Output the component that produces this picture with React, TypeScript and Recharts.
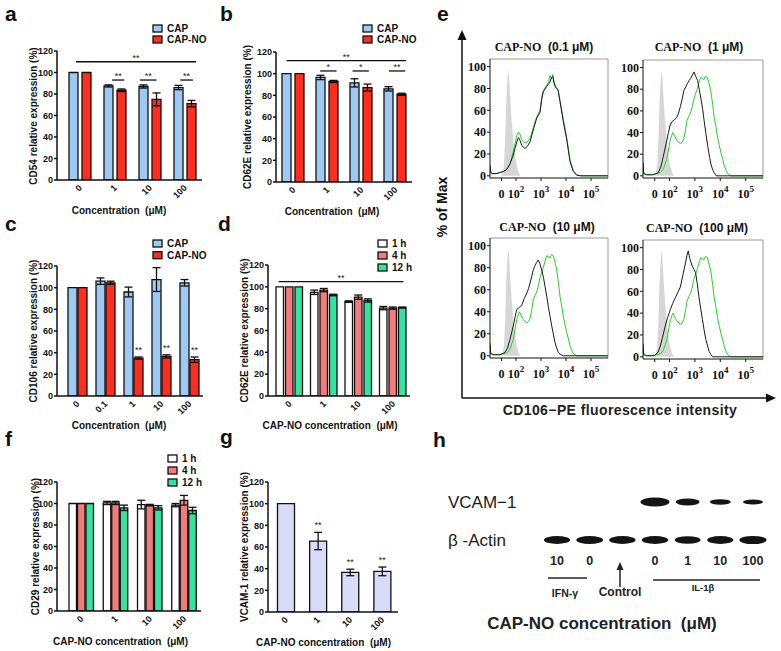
import React from 'react';
import {
  BarChart,
  Bar,
  XAxis,
  YAxis,
  ErrorBar,
  ReferenceLine,
  LabelList,
  ComposedChart,
  Line,
  Area,
  ScatterChart,
  Scatter,
} from 'recharts';

const SANS = '"Liberation Sans", Arial, Helvetica, sans-serif';
const SERIF = '"Liberation Serif", "Times New Roman", Times, serif';
const INK = '#111';

const CAP_BLUE = '#9dcaf2';
const CAP_RED = '#ff2d1e';
const H1 = '#ffffff';
const H4 = '#f47b7b';
const H12 = '#34e3a0';
const LAVENDER = '#d9dbf8';

// a: CD54
const concA = ['0', '1', '10', '100'];
const cd54Cap = [100, 87.5, 87, 86];
const cd54CapErr = [0, 1, 1.5, 2];
const cd54CapNo = [100, 83.5, 75, 71];
const cd54CapNoErr = [0, 1.2, 6, 3];

// b: CD62E
const cd62eCap = [100, 96.5, 91.5, 86];
const cd62eCapErr = [0, 2, 3.8, 2];
const cd62eCapNo = [100, 92.8, 87.2, 81];
const cd62eCapNoErr = [0, 1, 3.2, 1];

// c: CD106
const concC = ['0', '0.1', '1', '10', '100'];
const cd106Cap = [100, 106, 96, 107.5, 104.5];
const cd106CapErr = [0, 3, 4.5, 11, 3];
const cd106CapNo = [100, 104.5, 35, 36.5, 33.5];
const cd106CapNoErr = [0, 1.5, 1, 1.5, 2.5];
const cd106Sig = ['', '', '**', '**', '**'];

// d: CD62E over time
const cd62e1h = [100, 95, 86.5, 80.5];
const cd62e1hErr = [0, 2, 0.7, 1.5];
const cd62e4h = [100, 97, 90.5, 80.5];
const cd62e4hErr = [0, 1.5, 2, 1];
const cd62e12h = [100, 92.5, 87.5, 81];
const cd62e12hErr = [0, 0.7, 1.5, 0.5];

// f: CD29 over time
const cd29_1h = [100, 100.5, 99, 98.5];
const cd29_1hErr = [0, 1.5, 4, 1.5];
const cd29_4h = [100, 100.5, 98.5, 103];
const cd29_4hErr = [0, 1.5, 0.7, 4.5];
const cd29_12h = [100, 96, 96, 93.5];
const cd29_12hErr = [0, 2.5, 2, 3];

// g: VCAM-1
const vcam = [100, 65.5, 36.5, 37.5];
const vcamErr = [0, 8, 3, 4];
const vcamSig = ['', '**', '**', '**'];

// significance brackets (from/to in category units, 0 = first category centre; y in %)
const bracketsA = [
  { from: -0.1, to: 3.33, y: 110, mark: '**' },
  { from: 0.93, to: 1.28, y: 93, mark: '**' },
  { from: 1.73, to: 2.2, y: 93, mark: '**' },
  { from: 2.88, to: 3.24, y: 93, mark: '**' },
];
const bracketsB = [
  { from: -0.19, to: 3.32, y: 112, mark: '**' },
  { from: 0.8, to: 1.28, y: 102.5, mark: '*' },
  { from: 1.75, to: 2.23, y: 102.5, mark: '*' },
  { from: 2.82, to: 3.3, y: 102.5, mark: '**' },
];
const bracketsD = [{ from: -0.31, to: 3.31, y: 104.7, mark: '**' }];

// e: flow cytometry histograms (x in decades, y in % of max)
const decTicks = [1.42, 2, 3, 4, 5];
const decExp = ['', '2', '3', '4', '5'];
const isoCtrl = [
  { x: 1.4, y: 0 }, { x: 1.46, y: 2 }, { x: 1.52, y: 10 }, { x: 1.57, y: 35 },
  { x: 1.61, y: 68 }, { x: 1.66, y: 90 }, { x: 1.69, y: 97 }, { x: 1.72, y: 92 },
  { x: 1.76, y: 75 }, { x: 1.82, y: 52 }, { x: 1.89, y: 33 }, { x: 1.96, y: 18 },
  { x: 2.03, y: 9 }, { x: 2.1, y: 3 }, { x: 2.18, y: 0 },
];
const blackTL = [
  { x: 0.96, y: 10 }, { x: 0.99, y: 3 }, { x: 1.05, y: 2 }, { x: 1.2, y: 2 },
  { x: 1.36, y: 3 }, { x: 1.5, y: 4 }, { x: 1.63, y: 6 }, { x: 1.76, y: 11 },
  { x: 1.89, y: 19 }, { x: 1.97, y: 26 }, { x: 2.03, y: 31 }, { x: 2.1, y: 35 },
  { x: 2.15, y: 33 }, { x: 2.23, y: 28 }, { x: 2.3, y: 26 }, { x: 2.36, y: 25 },
  { x: 2.45, y: 27 }, { x: 2.56, y: 31 }, { x: 2.69, y: 42 }, { x: 2.83, y: 53 },
  { x: 2.96, y: 58 }, { x: 3.03, y: 70 }, { x: 3.09, y: 77 }, { x: 3.23, y: 82 },
  { x: 3.3, y: 84 }, { x: 3.36, y: 86 }, { x: 3.42, y: 90 }, { x: 3.47, y: 91 },
  { x: 3.52, y: 85 }, { x: 3.56, y: 82 }, { x: 3.62, y: 80 }, { x: 3.68, y: 79 },
  { x: 3.76, y: 68 }, { x: 3.89, y: 50 }, { x: 4.03, y: 33 }, { x: 4.16, y: 13 },
  { x: 4.29, y: 4 }, { x: 4.43, y: 0.5 }, { x: 4.6, y: 0 }, { x: 5.68, y: 0 },
];
const greenTL = [
  { x: 0.96, y: 9 }, { x: 0.99, y: 3 }, { x: 1.05, y: 2 }, { x: 1.2, y: 2 },
  { x: 1.36, y: 3 }, { x: 1.5, y: 4 }, { x: 1.63, y: 6 }, { x: 1.76, y: 11 },
  { x: 1.89, y: 22 }, { x: 1.97, y: 30 }, { x: 2.03, y: 37 }, { x: 2.1, y: 40 },
  { x: 2.16, y: 38 }, { x: 2.23, y: 33 }, { x: 2.3, y: 31 }, { x: 2.36, y: 30 },
  { x: 2.45, y: 31 }, { x: 2.56, y: 34 }, { x: 2.69, y: 44 }, { x: 2.83, y: 54 },
  { x: 2.96, y: 60 }, { x: 3.03, y: 72 }, { x: 3.09, y: 78 }, { x: 3.23, y: 83 },
  { x: 3.3, y: 86 }, { x: 3.36, y: 92 }, { x: 3.42, y: 89 }, { x: 3.47, y: 93 },
  { x: 3.52, y: 86 }, { x: 3.56, y: 84 }, { x: 3.62, y: 80 }, { x: 3.68, y: 79 },
  { x: 3.76, y: 69 }, { x: 3.89, y: 52 }, { x: 4.03, y: 35 }, { x: 4.16, y: 15 },
  { x: 4.29, y: 5 }, { x: 4.43, y: 1 }, { x: 4.6, y: 0 }, { x: 5.68, y: 0 },
];
const greenRef = [
  { x: 0.96, y: 12 }, { x: 0.99, y: 2 }, { x: 1.1, y: 1 }, { x: 1.3, y: 1 },
  { x: 1.5, y: 2 }, { x: 1.65, y: 3 }, { x: 1.76, y: 6 }, { x: 1.89, y: 15 },
  { x: 2.03, y: 33 }, { x: 2.13, y: 40 }, { x: 2.2, y: 37 }, { x: 2.29, y: 33 },
  { x: 2.36, y: 31 }, { x: 2.43, y: 30 }, { x: 2.5, y: 31 }, { x: 2.56, y: 34 },
  { x: 2.63, y: 42 }, { x: 2.69, y: 51 }, { x: 2.76, y: 55 }, { x: 2.83, y: 58 },
  { x: 2.9, y: 64 }, { x: 2.96, y: 71 }, { x: 3.03, y: 76 }, { x: 3.09, y: 80 },
  { x: 3.16, y: 86 }, { x: 3.23, y: 91 }, { x: 3.29, y: 90 }, { x: 3.36, y: 89 },
  { x: 3.42, y: 92 }, { x: 3.49, y: 91 }, { x: 3.56, y: 85 }, { x: 3.63, y: 78 },
  { x: 3.7, y: 66 }, { x: 3.76, y: 54 }, { x: 3.83, y: 45 }, { x: 3.89, y: 36 },
  { x: 3.96, y: 28 }, { x: 4.03, y: 21 }, { x: 4.1, y: 15 }, { x: 4.16, y: 9 },
  { x: 4.23, y: 5 }, { x: 4.29, y: 2 }, { x: 4.36, y: 1 }, { x: 4.43, y: 0 },
  { x: 5.68, y: 0 },
];
const blackTR = [
  { x: 0.96, y: 12 }, { x: 0.99, y: 2 }, { x: 1.1, y: 1 }, { x: 1.36, y: 1 },
  { x: 1.56, y: 3 }, { x: 1.66, y: 8 }, { x: 1.76, y: 18 }, { x: 1.89, y: 32 },
  { x: 1.96, y: 40 }, { x: 2.03, y: 47 }, { x: 2.1, y: 50 }, { x: 2.2, y: 52 },
  { x: 2.29, y: 54 }, { x: 2.36, y: 58 }, { x: 2.43, y: 64 }, { x: 2.5, y: 71 },
  { x: 2.57, y: 79 }, { x: 2.64, y: 82 }, { x: 2.7, y: 85 }, { x: 2.77, y: 88 },
  { x: 2.84, y: 90 }, { x: 2.9, y: 93 }, { x: 2.97, y: 96 }, { x: 3.03, y: 92 },
  { x: 3.11, y: 88 }, { x: 3.17, y: 80 }, { x: 3.24, y: 71 }, { x: 3.31, y: 61 },
  { x: 3.37, y: 50 }, { x: 3.44, y: 38 }, { x: 3.51, y: 27 }, { x: 3.58, y: 17 },
  { x: 3.64, y: 10 }, { x: 3.71, y: 5 }, { x: 3.78, y: 2 }, { x: 3.84, y: 0 },
  { x: 5.68, y: 0 },
];
const blackBL = [
  { x: 0.96, y: 10 }, { x: 0.99, y: 2 }, { x: 1.1, y: 1 }, { x: 1.36, y: 1 },
  { x: 1.56, y: 3 }, { x: 1.66, y: 7 }, { x: 1.76, y: 15 }, { x: 1.89, y: 27 },
  { x: 1.96, y: 35 }, { x: 2.03, y: 42 }, { x: 2.13, y: 44 }, { x: 2.23, y: 46 },
  { x: 2.33, y: 52 }, { x: 2.43, y: 57 }, { x: 2.5, y: 61 }, { x: 2.56, y: 66 },
  { x: 2.63, y: 72 }, { x: 2.69, y: 78 }, { x: 2.76, y: 82 }, { x: 2.83, y: 85 },
  { x: 2.89, y: 87 }, { x: 2.95, y: 84 }, { x: 3.03, y: 78 }, { x: 3.1, y: 71 },
  { x: 3.16, y: 63 }, { x: 3.23, y: 54 }, { x: 3.29, y: 45 }, { x: 3.36, y: 36 },
  { x: 3.43, y: 27 }, { x: 3.5, y: 19 }, { x: 3.56, y: 12 }, { x: 3.63, y: 7 },
  { x: 3.69, y: 3 }, { x: 3.8, y: 1 }, { x: 3.89, y: 0 }, { x: 5.68, y: 0 },
];
const blackBR = [
  { x: 0.96, y: 12 }, { x: 0.99, y: 2 }, { x: 1.1, y: 1 }, { x: 1.4, y: 1 },
  { x: 1.55, y: 4 }, { x: 1.63, y: 9 }, { x: 1.73, y: 18 }, { x: 1.83, y: 28 },
  { x: 1.93, y: 36 }, { x: 2.03, y: 43 }, { x: 2.13, y: 49 }, { x: 2.23, y: 54 },
  { x: 2.33, y: 59 }, { x: 2.43, y: 64 }, { x: 2.53, y: 75 }, { x: 2.63, y: 86 },
  { x: 2.69, y: 93 }, { x: 2.74, y: 97 }, { x: 2.8, y: 90 }, { x: 2.9, y: 83 },
  { x: 2.97, y: 80 }, { x: 3.03, y: 77 }, { x: 3.1, y: 66 }, { x: 3.16, y: 55 },
  { x: 3.23, y: 44 }, { x: 3.3, y: 34 }, { x: 3.36, y: 25 }, { x: 3.43, y: 16 },
  { x: 3.5, y: 10 }, { x: 3.56, y: 5 }, { x: 3.63, y: 2 }, { x: 3.7, y: 0 },
  { x: 5.68, y: 0 },
];

// h: western blot (relative band intensity per lane)
const laneTicks = [0, 1, 2, 3, 4, 5, 6];
const laneLabels = ['10', '0', '', '0', '1', '10', '100'];
const vcamBand = [0, 0, 0, 1, 0.72, 0.55, 0.5];
const actinBand = [0.85, 0.88, 0.86, 0.86, 0.82, 0.85, 0.9];
const rowLabels = ['VCAM\u22121', '\u03b2 -Actin'];

const capSeries = (v: number[], e: number[], v2: number[], e2: number[]) => [
  { key: 'cap', name: 'CAP', fill: CAP_BLUE, values: v, errs: e },
  { key: 'capno', name: 'CAP-NO', fill: CAP_RED, values: v2, errs: e2 },
];
const timeSeries = (a: number[], ae: number[], b: number[], be: number[], c: number[], ce: number[]) => [
  { key: 'h1', name: '1 h', fill: H1, values: a, errs: ae },
  { key: 'h4', name: '4 h', fill: H4, values: b, errs: be },
  { key: 'h12', name: '12 h', fill: H12, values: c, errs: ce },
];

const seriesA = capSeries(cd54Cap, cd54CapErr, cd54CapNo, cd54CapNoErr);
const seriesB = capSeries(cd62eCap, cd62eCapErr, cd62eCapNo, cd62eCapNoErr);
const seriesC = capSeries(cd106Cap, cd106CapErr, cd106CapNo, cd106CapNoErr);
const seriesD = timeSeries(cd62e1h, cd62e1hErr, cd62e4h, cd62e4hErr, cd62e12h, cd62e12hErr);
const seriesF = timeSeries(cd29_1h, cd29_1hErr, cd29_4h, cd29_4hErr, cd29_12h, cd29_12hErr);
const seriesG = [{ key: 'vcam', name: 'VCAM-1', fill: LAVENDER, values: vcam, errs: vcamErr }];

const RotTick = (p: any) => {
  const ax = p.x - 1.5
  return (
    <text
      x={ax}
      y={p.y}
      transform={`rotate(-45 ${ax} ${p.y})`}
      textAnchor="end"
      dy="0.7em"
      fontSize={9}
      fontWeight="bold"
      fontFamily={SANS}
      fill={INK}
    >
      {p.payload.value}
    </text>
  )
}

function BarPanel({ plot, pad, cats, series, barSize, barGap, brackets = [], sig }: any) {
  const left = plot.l - 57
  const top = plot.t - 15
  const width = plot.r - left + 8
  const height = plot.b - top + 40
  const pxPerUnit = (plot.b - plot.t) / 120
  const n = cats.length
  // the hidden numeric axis spans [0, n-1] over the whole plot width;
  // convert category-centre units onto it
  const toAxis = (u: number) => ((u + 0.5) * (n - 1)) / n
  const rows = cats.map((c: string, i: number) => {
    const o: any = { cat: c }
    series.forEach((s: any) => {
      o[s.key] = s.values[i]
      o[s.key + 'Err'] = s.errs[i]
    })
    if (sig) o.sig = sig.marks[i]
    return o
  })
  return (
    <div style={{ position: 'absolute', left, top }}>
      <BarChart
        width={width}
        height={height}
        data={rows}
        barGap={barGap}
        margin={{ top: 15, right: 8, left: 0, bottom: 6 }}
      >
        <XAxis
          xAxisId="c"
          dataKey="cat"
          interval={0}
          padding={{ left: pad, right: 0 }}
          height={34}
          tickLine={false}
          tickSize={0}
          tickMargin={4}
          axisLine={{ stroke: INK, strokeWidth: 1.5 }}
          tick={<RotTick />}
        />
        <XAxis
          xAxisId="n"
          type="number"
          domain={[0, n - 1]}
          allowDataOverflow
          hide
          padding={{ left: pad, right: 0 }}
        />
        <YAxis
          width={57}
          domain={[0, 120]}
          ticks={[0, 20, 40, 60, 80, 100, 120]}
          allowDataOverflow
          tickSize={3}
          tickMargin={1}
          axisLine={{ stroke: INK, strokeWidth: 1.5 }}
          tickLine={{ stroke: INK, strokeWidth: 1.5 }}
          tick={{ fontSize: 9, fontWeight: 'bold', fill: INK, fontFamily: SANS }}
        />
        {series.map((s: any) => (
          <Bar
            key={s.key}
            xAxisId="c"
            dataKey={s.key}
            name={s.name}
            fill={s.fill}
            stroke={INK}
            strokeWidth={1.3}
            barSize={barSize}
            isAnimationActive={false}
          >
            <ErrorBar dataKey={s.key + 'Err'} width={4} stroke={INK} strokeWidth={1.3} direction="y" />
            {sig && sig.key === s.key && (
              <LabelList
                dataKey="sig"
                content={(p: any) => {
                  if (!p.value) return null
                  const e = s.errs[p.index] || 0
                  return (
                    <text
                      x={Number(p.x) + Number(p.width) / 2}
                      y={Number(p.y) - e * pxPerUnit - 4}
                      textAnchor="middle"
                      fontSize={9}
                      fill="#222"
                      fontFamily={SANS}
                    >
                      {p.value}
                    </text>
                  )
                }}
              />
            )}
          </Bar>
        ))}
        {brackets.map((b: any, i: number) => (
          <ReferenceLine
            key={i}
            xAxisId="n"
            segment={[{ x: toAxis(b.from), y: b.y }, { x: toAxis(b.to), y: b.y }]}
            stroke={INK}
            strokeWidth={1.3}
            ifOverflow="visible"
            label={{ value: b.mark, position: 'top', offset: 1, fontSize: 9, fill: '#222', fontFamily: SANS }}
          />
        ))}
      </BarChart>
    </div>
  )
}

const DecTick = (p: any) => {
  const i = decTicks.indexOf(p.payload.value)
  const e = decExp[i]
  return (
    <text
      x={p.x}
      y={p.y}
      dy="0.75em"
      textAnchor="middle"
      fontFamily={SERIF}
      fontWeight="bold"
      fontSize={12}
      fill={INK}
    >
      {e === '' ? (
        '0'
      ) : (
        <>
          <tspan>10</tspan>
          <tspan dy={-6} fontSize={9}>{e}</tspan>
        </>
      )}
    </text>
  )
}

function HistPanel({ plot, black, green }: any) {
  const left = plot.l - 42
  const top = plot.t - 4
  const width = 42 + (plot.r - plot.l) + 3
  const height = 4 + (plot.b - plot.t) + 26
  return (
    <div style={{ position: 'absolute', left, top }}>
      <ComposedChart width={width} height={height} margin={{ top: 4, right: 3, left: 0, bottom: 0 }}>
        <XAxis
          type="number"
          dataKey="x"
          domain={[0.96, 5.68]}
          allowDataOverflow
          ticks={decTicks}
          interval={0}
          tick={<DecTick />}
          tickSize={3}
          tickMargin={8}
          height={26}
          axisLine={{ stroke: INK, strokeWidth: 1 }}
          tickLine={{ stroke: INK }}
        />
        <YAxis
          type="number"
          domain={[-2, 107]}
          allowDataOverflow
          ticks={[0, 20, 40, 60, 80, 100]}
          width={42}
          tickSize={3}
          tickMargin={1}
          axisLine={{ stroke: INK, strokeWidth: 1 }}
          tickLine={{ stroke: INK }}
          tick={{ fontFamily: SERIF, fontSize: 12, fontWeight: 'bold', fill: INK }}
        />
        <ReferenceLine y={107} stroke="#9a9a9a" strokeWidth={1} />
        <ReferenceLine x={5.68} stroke="#9a9a9a" strokeWidth={1} />
        <Area
          data={isoCtrl}
          dataKey="y"
          type="linear"
          fill="#d6d6d6"
          fillOpacity={1}
          stroke="none"
          baseValue={0}
          isAnimationActive={false}
        />
        <Line data={green} dataKey="y" type="linear" stroke="#22d422" strokeWidth={1} dot={false} isAnimationActive={false} />
        <Line data={black} dataKey="y" type="linear" stroke="#1a1a1a" strokeWidth={1} dot={false} isAnimationActive={false} />
      </ComposedChart>
    </div>
  )
}

const Band = (p: any) => {
  const v = p.payload.v
  if (!v) return null
  return <ellipse cx={p.cx} cy={p.cy} rx={5.5 + 9 * v} ry={0.5 + 4 * v} fill="#141414" />
}

const RowTick = (p: any) => (
  <text x={18} y={p.y} dy="0.38em" fontSize={17} fontFamily={SANS} fill="#1a1a1a">
    {rowLabels[p.payload.value]}
  </text>
)

function BlotPanel() {
  const vcamRow = vcamBand.map((v, i) => ({ lane: i, row: 0, v }))
  const actinRow = actinBand.map((v, i) => ({ lane: i, row: 1, v }))
  return (
    <div style={{ position: 'absolute', left: 430, top: 470 }}>
      <ScatterChart width={345} height={110} margin={{ top: 13, right: 5.7, left: 0, bottom: 8.6 }}>
        <XAxis
          type="number"
          dataKey="lane"
          domain={[-0.5, 6.5]}
          ticks={laneTicks}
          interval={0}
          tickFormatter={(v: number) => laneLabels[v]}
          axisLine={false}
          tickLine={false}
          tickSize={0}
          tickMargin={4.5}
          height={20}
          tick={{ fontSize: 12.5, fontWeight: 'bold', fill: '#222', fontFamily: SANS }}
        />
        <YAxis
          type="number"
          dataKey="row"
          domain={[-0.5, 1.3]}
          reversed
          ticks={[0, 1]}
          width={110.7}
          axisLine={false}
          tickLine={false}
          tick={<RowTick />}
        />
        <Scatter data={vcamRow} shape={<Band />} isAnimationActive={false} />
        <Scatter data={actinRow} shape={<Band />} isAnimationActive={false} />
      </ScatterChart>
    </div>
  )
}

const Legend = ({ x, y, step, items }: any) => (
  <g>
    {items.map((s: any, i: number) => (
      <g key={s.key}>
        <rect x={x} y={y + i * step} width={9} height={7} fill={s.fill} stroke={INK} strokeWidth={1.3} />
        <text x={x + 14} y={y + i * step + 3.5} dominantBaseline="central" fontSize={10} fontWeight="bold" fill={INK}>
          {s.name}
        </text>
      </g>
    ))}
  </g>
)

const YTitle = ({ x, y, text }: any) => (
  <text x={x} y={y} transform={`rotate(-90 ${x} ${y})`} textAnchor="middle" dominantBaseline="central" fontSize={10} fontWeight="bold" fill={INK}>
    {text}
  </text>
)
const XTitle = ({ x, y, text }: any) => (
  <text x={x} y={y} textAnchor="middle" dominantBaseline="central" fontSize={10} fontWeight="bold" fill={INK}>
    {text}
  </text>
)
const HistTitle = ({ x, y, dose }: any) => (
  <text x={x} y={y} textAnchor="middle" dominantBaseline="central" fontSize={12} fontWeight="bold" fill={INK}>
    <tspan fontFamily={SERIF}>CAP-NO</tspan>
    <tspan fontFamily={SANS}>{`\u00a0\u00a0(${dose} \u03bcM)`}</tspan>
  </text>
)

function Overlay() {
  const letters = [
    ['a', 5, 21], ['b', 220, 21], ['c', 5, 231], ['d', 218, 231],
    ['e', 437, 21], ['f', 5, 446], ['g', 220, 444], ['h', 433, 447],
  ]
  return (
    <svg
      width={781}
      height={651}
      style={{ position: 'absolute', left: 0, top: 0, pointerEvents: 'none' }}
      fontFamily={SANS}
    >
      {letters.map(([t, x, y]: any) => (
        <text key={t} x={x} y={y} fontSize={21} fontWeight="bold" fill={INK}>{t}</text>
      ))}

      <Legend x={153} y={25} step={11} items={seriesA} />
      <Legend x={363} y={25} step={11} items={seriesB} />
      <Legend x={153} y={240} step={11.7} items={seriesC} />
      <Legend x={378} y={240} step={12} items={seriesD} />
      <Legend x={168} y={455} step={12} items={seriesF} />

      <YTitle x={33} y={116} text="CD54 relative expression (%)" />
      <YTitle x={247} y={117} text="CD62E relative expression (%)" />
      <YTitle x={33.5} y={331} text="CD106 relative expression (%)" />
      <YTitle x={244} y={330.5} text="CD62E relative expression (%)" />
      <YTitle x={35} y={546.5} text="CD29 relative expression (%)" />
      <YTitle x={244.7} y={547} text="VCAM-1 relative expression (%)" />
      <XTitle x={119} y={210} text={'Concentration \u00a0(\u03bcM)'} />
      <XTitle x={332} y={211} text={'Concentration \u00a0(\u03bcM)'} />
      <XTitle x={119} y={425} text={'Concentration \u00a0(\u03bcM)'} />
      <XTitle x={330} y={425} text={'CAP-NO concentration \u00a0(\u03bcM)'} />
      <XTitle x={120.5} y={641} text={'CAP-NO concentration \u00a0(\u03bcM)'} />
      <XTitle x={323.5} y={642} text={'CAP-NO concentration \u00a0(\u03bcM)'} />

      {/* e: axes with arrows */}
      <line x1={462} y1={398} x2={462} y2={38} stroke={INK} strokeWidth={1.5} />
      <polygon points="462,30 457.5,40 466.5,40" fill={INK} />
      <line x1={462} y1={398} x2={767} y2={398} stroke={INK} strokeWidth={1.5} />
      <polygon points="776,398 766,393.5 766,402.5" fill={INK} />
      <text x={442} y={207} transform="rotate(-90 442 207)" textAnchor="middle" dominantBaseline="central" fontSize={14} fontWeight="bold" fill={INK}>
        % of Max
      </text>
      <text x={620} y={410} textAnchor="middle" dominantBaseline="central" fontSize={14} fontWeight="bold" letterSpacing={0.4} fill="#222">
        CD106{'\u2212'}PE fluorescence intensity
      </text>
      <HistTitle x={544} y={47} dose="0.1" />
      <HistTitle x={699} y={47} dose="1" />
      <HistTitle x={547} y={227} dose="10" />
      <HistTitle x={697} y={228} dose="100" />

      {/* h: lane groups */}
      <line x1={548} y1={578} x2={587} y2={578} stroke="#222" strokeWidth={1.5} />
      <line x1={653} y1={580} x2={760} y2={580} stroke="#222" strokeWidth={1.5} />
      <line x1={620} y1={587} x2={620} y2={568} stroke="#222" strokeWidth={1.5} />
      <polygon points="620,562 616.5,570 623.5,570" fill="#222" />
      <text x={565} y={593} textAnchor="middle" dominantBaseline="central" fontSize={10.5} fontWeight="bold" fill="#222">IFN-{'\u03b3'}</text>
      <text x={620} y={592} textAnchor="middle" dominantBaseline="central" fontSize={12} fontWeight="bold" fill="#222">Control</text>
      <text x={703} y={587} textAnchor="middle" dominantBaseline="central" fontSize={9.5} fontWeight="bold" fill="#222">IL-1{'\u03b2'}</text>
      <text x={602} y={623} textAnchor="middle" dominantBaseline="central" fontSize={17} fontWeight="bold" fill="#222">
        CAP-NO concentration {'\u00a0'}({'\u03bc'}M)
      </text>
    </svg>
  )
}

export default function App() {
  return (
    <div
      style={{
        position: 'absolute',
        left: 0,
        top: 0,
        width: 781,
        height: 651,
        background: '#fff',
        overflow: 'hidden',
        fontFamily: SANS,
      }}
    >
      <BarPanel plot={{ l: 57, t: 51, r: 202, b: 180 }} pad={5} cats={concA} series={seriesA} barSize={9} barGap={4} brackets={bracketsA} />
      <BarPanel plot={{ l: 276, t: 52, r: 412, b: 182 }} pad={0} cats={concA} series={seriesB} barSize={9} barGap={4} brackets={bracketsB} />
      <BarPanel
        plot={{ l: 57, t: 266, r: 203, b: 396 }}
        pad={6}
        cats={concC}
        series={seriesC}
        barSize={9}
        barGap={1}
        sig={{ key: 'capno', marks: cd106Sig }}
      />
      <BarPanel plot={{ l: 268, t: 265, r: 410, b: 396 }} pad={4} cats={concA} series={seriesD} barSize={7.5} barGap={2} brackets={bracketsD} />
      <BarPanel plot={{ l: 57, t: 482, r: 201, b: 611 }} pad={7} cats={concA} series={seriesF} barSize={7.5} barGap={1} />
      <BarPanel
        plot={{ l: 268, t: 482, r: 398, b: 612 }}
        pad={1.5}
        cats={concA}
        series={seriesG}
        barSize={17}
        barGap={0}
        sig={{ key: 'vcam', marks: vcamSig }}
      />

      <HistPanel plot={{ l: 490, t: 59, r: 608, b: 178 }} black={blackTL} green={greenTL} />
      <HistPanel plot={{ l: 643, t: 60, r: 763, b: 178 }} black={blackTR} green={greenRef} />
      <HistPanel plot={{ l: 490, t: 238, r: 608, b: 358 }} black={blackBL} green={greenRef} />
      <HistPanel plot={{ l: 643, t: 240, r: 763, b: 359 }} black={blackBR} green={greenRef} />

      <BlotPanel />
      <Overlay />
    </div>
  )
}
